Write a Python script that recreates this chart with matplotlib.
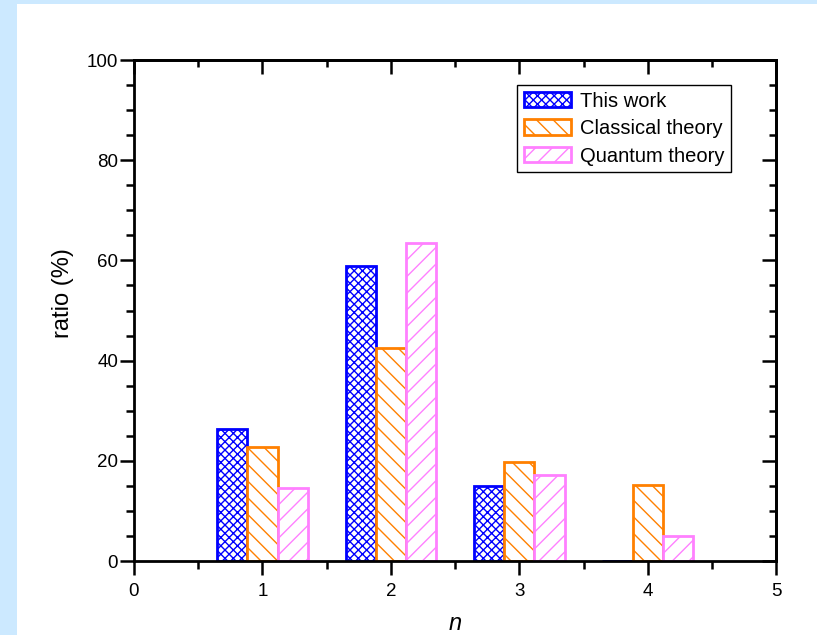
import numpy as np
import matplotlib
matplotlib.use("Agg")
import matplotlib.pyplot as plt
from matplotlib.patches import Rectangle
from matplotlib.ticker import MultipleLocator

plt.rcParams['font.family'] = ['Liberation Sans', 'DejaVu Sans']
plt.rcParams['hatch.linewidth'] = 1.0

# ratio of each n for the three data sets
n = [1, 2, 3, 4]
this_work = [26.3, 58.9, 15.0, 0.0]
classical = [22.7, 42.6, 19.8, 15.1]
quantum = [14.6, 63.5, 17.2, 5.0]

labels = ["This work", "Classical theory", "Quantum theory"]

fig = plt.figure(figsize=(8.17, 6.35), dpi=100, facecolor='#cce9ff')
# white sheet over the blue page
fig.patches.append(Rectangle((17 / 817, 0), 1, 1 - 4 / 635, transform=fig.transFigure,
                             facecolor='white', edgecolor='none', zorder=-1))

ax = fig.add_axes([0.164, 0.1165, 0.786, 0.789])
w = 0.235
x = np.array(n, dtype=float)

ax.bar(x - w, this_work, w, facecolor='white', edgecolor='#0000ff', hatch='xxxx',
       linewidth=2, label=labels[0])
ax.bar(x, classical, w, facecolor='white', edgecolor='#ff8000', hatch='\\\\',
       linewidth=2, label=labels[1])
ax.bar(x + w, quantum, w, facecolor='white', edgecolor='#ff80ff', hatch='//',
       linewidth=2, label=labels[2])

ax.set_xlim(0, 5)
ax.set_ylim(0, 100)
ax.xaxis.set_major_locator(MultipleLocator(1))
ax.xaxis.set_minor_locator(MultipleLocator(0.5))
ax.yaxis.set_major_locator(MultipleLocator(20))
ax.yaxis.set_minor_locator(MultipleLocator(5))

for s in ax.spines.values():
    s.set_linewidth(2)

ax.tick_params(which='both', direction='out', width=1.8, labelsize=13.5, top=False, right=False)
ax.tick_params(which='major', length=10)
ax.tick_params(which='minor', length=6)
ax.tick_params(axis='x', which='major', pad=6)
ax.tick_params(axis='y', which='major', pad=1.5)

# inward ticks on the mirrored top/right edges
ax2 = ax.secondary_xaxis('top')
ax2.xaxis.set_major_locator(MultipleLocator(1))
ax2.xaxis.set_minor_locator(MultipleLocator(0.5))
ax2.tick_params(which='both', direction='in', width=1.8, labeltop=False)
ax2.tick_params(which='major', length=10)
ax2.tick_params(which='minor', length=5)
ax2.spines['top'].set_linewidth(2)
ay2 = ax.secondary_yaxis('right')
ay2.yaxis.set_major_locator(MultipleLocator(20))
ay2.yaxis.set_minor_locator(MultipleLocator(5))
ay2.tick_params(which='both', direction='in', width=1.8, labelright=False)
ay2.tick_params(which='major', length=10)
ay2.tick_params(which='minor', length=5)
ay2.spines['right'].set_linewidth(2)

ax.set_xlabel("n", fontsize=17, style='italic', va='baseline')
ax.xaxis.set_label_coords(0.5, -0.1377)
ax.set_ylabel("ratio (%)", fontsize=17)
ax.yaxis.set_label_coords(-0.094, 0.535)

leg = ax.legend(loc='upper right', bbox_to_anchor=(0.930, 0.950), fontsize=14.5,
                handlelength=2.35, handleheight=0.8, labelspacing=0.42,
                handletextpad=0.45, borderpad=0.33, borderaxespad=0,
                fancybox=False, framealpha=1, edgecolor='black')
leg.get_frame().set_linewidth(1)

fig.savefig("out.png", dpi=100, facecolor=fig.get_facecolor())
